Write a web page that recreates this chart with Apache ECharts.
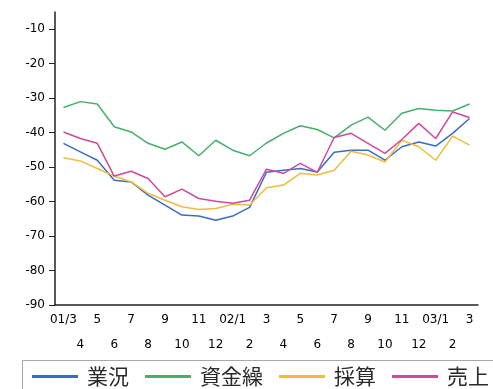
<!DOCTYPE html>
<html>
<head>
<meta charset="utf-8">
<script src="https://cdn.jsdelivr.net/npm/echarts@6/dist/echarts.min.js"></script>
<style>
  html, body { margin: 0; padding: 0; background: #fff; }
  #chart { width: 493px; height: 389px; }
</style>
</head>
<body>
<div id="chart"></div>
<script>
// Monthly survey indices, 2001/3 – 2003/3
const months = ['01/3','4','5','6','7','8','9','10','11','12','02/1','2','3','4','5','6','7','8','9','10','11','12','03/1','2','3'];
const seriesNames = ['業況', '資金繰', '採算', '売上'];
const gyoukyou = [-43.1,-45.6,-48.0,-53.8,-54.3,-58.1,-61.0,-63.9,-64.2,-65.4,-64.2,-61.7,-51.5,-50.9,-50.4,-51.4,-45.7,-45.1,-45.1,-48.0,-44.1,-42.7,-43.9,-40.2,-35.9];
const shikinguri = [-32.7,-31.0,-31.7,-38.3,-39.8,-43.1,-44.8,-42.7,-46.7,-42.2,-45.1,-46.7,-43.0,-40.2,-38.0,-39.1,-41.5,-37.8,-35.5,-39.3,-34.4,-33.0,-33.5,-33.7,-31.7];
const saisan = [-47.3,-48.2,-50.4,-52.6,-54.3,-57.6,-59.6,-61.5,-62.3,-62.0,-60.8,-61.0,-56.0,-55.2,-51.8,-52.3,-50.9,-45.4,-46.5,-48.5,-42.2,-44.1,-48.0,-41.0,-43.6];
const uriage = [-39.8,-41.7,-43.1,-52.6,-51.2,-53.3,-58.6,-56.4,-59.1,-59.9,-60.5,-59.6,-50.6,-51.8,-48.9,-51.5,-41.4,-40.2,-43.1,-46.0,-42.0,-37.3,-41.7,-34.0,-35.6];
const yTicks = [-90,-80,-70,-60,-50,-40,-30,-20,-10];

const colors = ['#3a6cc6', '#46b06a', '#f0bc3c', '#d04a9c'];
const values = [gyoukyou, shikinguri, saisan, uriage];

const chart = echarts.init(document.getElementById('chart'), null, { renderer: 'canvas' });
const labelFont = '"DejaVu Sans", sans-serif';

chart.setOption({
  animation: false,
  color: colors,
  grid: { left: 55, right: 15, top: 12, bottom: 84 },
  xAxis: {
    type: 'category',
    data: months,
    boundaryGap: true,
    axisLine: { lineStyle: { color: '#222', width: 1.5 } },
    axisTick: { alignWithLabel: true, inside: true, length: 6, lineStyle: { color: '#222' }, interval: 0 },
    axisLabel: {
      interval: 0,
      margin: 2,
      color: '#000',
      fontSize: 12,
      fontFamily: labelFont,
      lineHeight: 25,
      formatter: (v, i) => (i % 2 ? '\n' + v : v)
    },
    splitLine: { show: false }
  },
  yAxis: {
    type: 'value',
    min: -90,
    max: -5,
    interval: 10,
    axisLine: { show: true, lineStyle: { color: '#222', width: 1.5 } },
    axisTick: { show: true, length: 6, lineStyle: { color: '#222' }, customValues: yTicks },
    axisLabel: { color: '#000', fontSize: 12, fontFamily: labelFont, margin: 10, customValues: yTicks },
    splitLine: { show: false }
  },
  legend: {
    data: seriesNames,
    left: 32,
    top: 366,
    padding: 0,
    itemWidth: 46,
    itemHeight: 3,
    itemGap: 16,
    icon: 'rect',
    textStyle: { fontSize: 21, color: '#2a2a2a', fontFamily: '"Noto Sans CJK JP", sans-serif', padding: [0, 0, 0, 4] }
  },
  graphic: [{
    type: 'rect',
    left: 20,
    top: 358,
    shape: { width: 490, height: 40 },
    style: { fill: 'none', stroke: '#a8a8a8', lineWidth: 1 },
    silent: true
  }],
  series: seriesNames.map((name, k) => ({
    name,
    type: 'line',
    data: values[k],
    symbol: 'none',
    lineStyle: { width: 1.5, color: colors[k] },
    itemStyle: { color: colors[k] }
  }))
});
</script>
</body>
</html>
